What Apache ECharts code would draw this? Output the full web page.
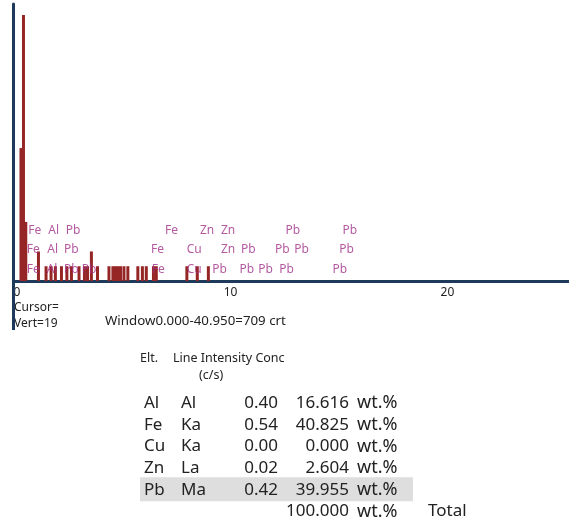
<!DOCTYPE html>
<html><head><meta charset="utf-8">
<script src="https://cdn.jsdelivr.net/npm/echarts@6/dist/echarts.min.js"></script>
<style>html,body{margin:0;padding:0;background:#fff}#c{width:569px;height:524px}</style>
</head><body><div id="c"></div>
<script>
// ---- spectrum data: channel energy (keV) and counts ----
const barEnergies = [0.345, 0.46, 0.566, 1.15, 1.50, 1.73, 1.93, 2.21, 2.46, 2.67, 3.02, 3.27, 3.41, 3.59, 3.87,
  4.40, 4.58, 4.70, 4.81, 4.93, 5.09, 5.27, 5.73, 5.94, 6.12, 6.45, 6.58, 7.99, 8.47, 8.98];
const barCounts = [9, 18, 4, 2, 1, 1, 1, 1, 1, 1, 1, 1, 1, 2, 1,
  1, 1, 1, 1, 1, 1, 1, 1, 1, 1, 1, 1, 1, 1, 1];

// ---- peak marker labels (three rows) ----
const markerRowY = [3.42, 2.15, 0.75];
const markerNames1 = ['Fe', 'Al', 'Pb', 'Fe', 'Zn', 'Zn', 'Pb', 'Pb'];
const markerEnergies1 = [0.68, 1.60, 2.41, 6.98, 8.59, 9.56, 12.54, 15.16];
const markerNames2 = ['Fe', 'Al', 'Pb', 'Fe', 'Cu', 'Zn', 'Pb', 'Pb', 'Pb', 'Pb'];
const markerEnergies2 = [0.61, 1.56, 2.33, 6.34, 7.98, 9.56, 10.48, 12.05, 12.94, 15.01];
const markerNames3 = ['Fe', 'Al', 'Pb', 'Pb', 'Fe', 'Cu', 'Pb', 'Pb', 'Pb', 'Pb', 'Pb'];
const markerEnergies3 = [0.61, 1.53, 2.33, 3.14, 6.37, 7.98, 9.16, 10.41, 11.28, 12.25, 14.70];

const xTicks = [0, 10, 20];
const xMax = 25.6;
const yMax = 18.75;

// ---- quantification table ----
const tblElements = ['Al', 'Fe', 'Cu', 'Zn', 'Pb'];
const tblLines = ['Al', 'Ka', 'Ka', 'La', 'Ma'];
const tblIntensity = ['0.40', '0.54', '0.00', '0.02', '0.42'];
const tblConc = ['16.616', '40.825', '0.000', '2.604', '39.955'];
const tblTotal = '100.000';
const tblUnit = 'wt.%';
const highlightRow = 4;

const FONT = '"Noto Sans", "Open Sans", sans-serif';
const axisColor = '#1e3a5a';
const barColor = '#962626';
const markerColor = '#a02f88';

function markerSeries(names, energies, y) {
  return {
    type: 'scatter', symbolSize: 0, silent: true, z: 5,
    data: names.map((n, i) => ({ name: n, value: [energies[i], y] })),
    label: { show: true, position: 'right', distance: 0, formatter: p => p.name,
      color: markerColor, fontSize: 12, fontFamily: FONT }
  };
}

const graphics = [];
const text = (t, x, y, size, align, color) => graphics.push({
  type: 'text', z: 10, style: { text: t, x: x, y: y, font: size + 'px ' + FONT, fill: color || '#222',
    align: align || 'left', verticalAlign: 'middle' }
});
// extension of the vertical axis below the baseline
graphics.push({ type: 'line', z: 20, shape: { x1: 13.5, y1: 280, x2: 13.5, y2: 330 },
  style: { stroke: axisColor, lineWidth: 3 } });
text('Cursor=', 14, 308, 12);
text('Vert=19', 14, 324, 12);
text('Window0.000-40.950=709 crt', 105, 321, 13.3);
text('Elt.', 140, 358, 12.5);
text('Line Intensity Conc', 173, 358, 12.5);
text('(c/s)', 199, 375, 12.5);
const rowY0 = 403, rowH = 21.7;
graphics.push({ type: 'rect', z: 5, shape: { x: 140, y: rowY0 + highlightRow * rowH - 12.5, width: 273, height: 24 },
  style: { fill: '#dedede' } });
tblElements.forEach((e, i) => {
  const y = rowY0 + i * rowH;
  text(e, 144, y, 17);
  text(tblLines[i], 181, y, 17);
  text(tblIntensity[i], 278, y, 17, 'right');
  text(tblConc[i], 349, y, 17, 'right');
  text(tblUnit, 357, y, 18);
});
const yT = rowY0 + tblElements.length * rowH;
text(tblTotal, 349, yT, 17, 'right');
text(tblUnit, 357, yT, 18);
text('Total', 428, yT, 17);

const chart = echarts.init(document.getElementById('c'), null, { renderer: 'canvas' });
chart.setOption({
  animation: false,
  backgroundColor: '#fff',
  grid: { left: 13.5, right: 0, top: 4, bottom: 243, containLabel: false },
  xAxis: {
    type: 'value', min: 0, max: xMax, interval: 10,
    axisLine: { show: true, lineStyle: { color: axisColor, width: 3 } },
    axisTick: { show: false },
    splitLine: { show: false },
    axisLabel: { customValues: xTicks, margin: 6, color: '#222', fontSize: 12, fontFamily: FONT,
      alignMinLabel: 'left' }
  },
  yAxis: {
    type: 'value', min: 0, max: yMax,
    axisLine: { show: true, lineStyle: { color: axisColor, width: 3 } },
    axisTick: { show: false }, axisLabel: { show: false }, splitLine: { show: false }
  },
  series: [
    { type: 'bar', barWidth: 3, silent: true, z: 2,
      itemStyle: { color: barColor },
      data: barEnergies.map((e, i) => [e, barCounts[i]]) },
    markerSeries(markerNames1, markerEnergies1, markerRowY[0]),
    markerSeries(markerNames2, markerEnergies2, markerRowY[1]),
    markerSeries(markerNames3, markerEnergies3, markerRowY[2])
  ],
  graphic: graphics
});
</script></body></html>
